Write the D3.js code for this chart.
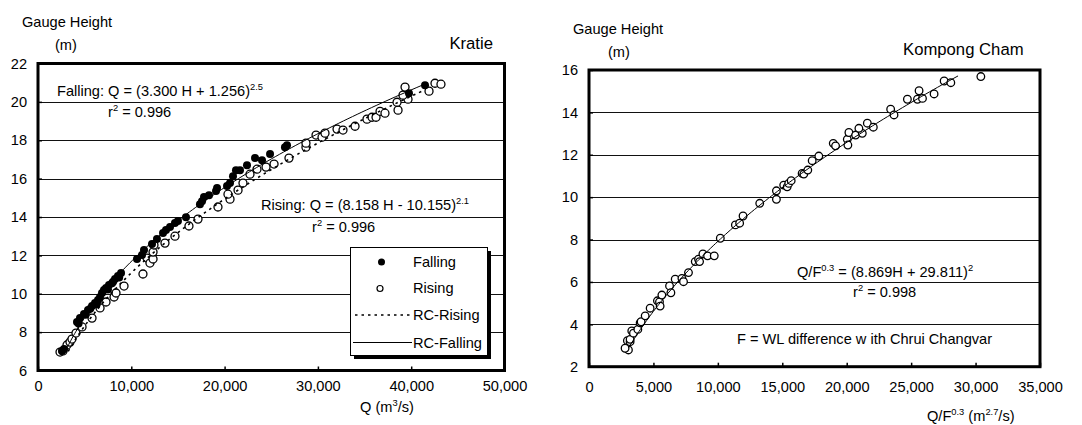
<!DOCTYPE html>
<html>
<head>
<meta charset="utf-8">
<script src="https://cdn.jsdelivr.net/npm/d3@7"></script>
<style>
  body { margin: 0; background: #fff; }
  svg text { font-family: "Liberation Sans", Arial, sans-serif; fill: #000; }
</style>
</head>
<body>
<svg id="chart" width="1082" height="425"></svg>
<script>
// ---- Kratie: observed discharge Q (m3/s) vs gauge height H (m) ----
const kratieFalling = [
  [2570, 7.02], [2790, 7.12], [4180, 8.53], [4350, 8.45], [4500, 8.73], [4930, 8.94],
  [5100, 8.90], [5360, 9.15], [5600, 9.22], [5790, 9.36], [6110, 9.52], [6300, 9.45],
  [6430, 9.67], [6650, 9.83], [6860, 10.04], [7070, 10.19], [7290, 10.30], [7500, 10.22],
  [7610, 10.45], [7930, 10.55], [8050, 10.62], [8250, 10.77], [8570, 10.92], [8700, 10.85],
  [8900, 11.08], [10610, 11.81], [11150, 12.02], [11360, 12.28], [12220, 12.59],
  [12750, 12.85], [13400, 13.16], [13720, 13.32], [14150, 13.48], [14680, 13.69],
  [15000, 13.79], [15860, 13.99], [17360, 14.67], [17580, 14.82], [17790, 15.04],
  [18330, 15.14], [19080, 15.35], [19190, 15.51], [20260, 15.61], [20580, 15.77],
  [20900, 16.13], [21220, 16.44], [21650, 16.44], [22400, 16.70], [23260, 17.07],
  [24010, 16.96], [24870, 17.28], [26470, 17.64], [26690, 17.74], [39760, 20.45],
  [41480, 20.87]
];
const kratieRising = [
  [2360, 6.96], [2680, 7.02], [3110, 7.33], [3430, 7.48], [3640, 7.64], [4070, 7.95],
  [4720, 8.27], [5790, 8.73], [6650, 9.26], [7290, 9.57], [8150, 9.83], [8360, 10.04],
  [9220, 10.40], [11250, 11.03], [11680, 11.86], [12000, 11.60], [12330, 11.81],
  [12330, 12.17], [12430, 12.54], [13610, 12.64], [14680, 13.00], [16180, 13.53],
  [17150, 13.89], [19290, 14.52], [20580, 14.93], [20360, 15.19], [21440, 15.40],
  [21970, 15.77], [22720, 16.23], [23470, 16.49], [24440, 16.60], [25300, 16.76],
  [26900, 17.07], [28720, 17.64], [28720, 17.85], [29800, 18.27], [30440, 18.16],
  [30760, 18.37], [32050, 18.58], [32690, 18.53], [33980, 18.73], [35260, 19.10],
  [35800, 19.20], [36230, 19.20], [36660, 19.51], [37190, 19.41], [38590, 19.57],
  [38480, 19.98], [39660, 20.14], [39120, 20.35], [39340, 20.77], [41910, 20.56],
  [42550, 20.97], [43190, 20.92]
];
// Rating curves Q = (a H + b)^n and the stage range each one spans
const fallingCoef = [3.300, 1.256, 2.5];
const risingCoef = [8.158, -10.155, 2.1];
const fallingRange = [7.0, 20.85];
const risingRange = [7.0, 20.55];
const kratieXTicks = [0, 10000, 20000, 30000, 40000, 50000];
const kratieYTicks = [6, 8, 10, 12, 14, 16, 18, 20, 22];

// ---- Kompong Cham: Q/F^0.3 vs gauge height ----
const chamPoints = [
  [3060, 2.79], [2800, 2.87], [2980, 3.23], [3190, 3.18], [3190, 3.29], [3320, 3.69],
  [3450, 3.58], [3790, 3.76], [3970, 4.07], [4045, 4.12], [4360, 4.40], [4745, 4.76],
  [5310, 5.11], [5470, 5.06], [5520, 4.86], [5655, 5.38], [6250, 5.81], [6355, 5.49],
  [6690, 6.13], [7210, 6.17], [7335, 6.01], [7720, 6.44], [8245, 6.96], [8500, 7.07],
  [8580, 6.96], [8840, 7.32], [9200, 7.23], [9720, 7.23], [10190, 8.06], [11360, 8.69],
  [11690, 8.77], [11955, 9.11], [13250, 9.71], [14545, 9.90], [14545, 10.30],
  [15110, 10.57], [15380, 10.49], [15500, 10.65], [15690, 10.78], [16540, 11.12],
  [16670, 11.09], [16980, 11.28], [17320, 11.72], [17835, 11.94], [18955, 12.54],
  [19135, 12.42], [20045, 12.73], [20090, 12.46], [20170, 13.05], [20690, 12.93],
  [21210, 13.01], [20945, 13.25], [21600, 13.49], [22065, 13.30], [23410, 14.15],
  [23670, 13.88], [24710, 14.62], [25490, 14.62], [25615, 15.02], [25880, 14.66],
  [26780, 14.87], [27560, 15.48], [28080, 15.40], [30410, 15.69]
];
const chamCoef = [8.869, 29.811, 2];
const chamRange = [2.9, 15.72];
const chamXTicks = [0, 5000, 10000, 15000, 20000, 25000, 30000, 35000];
const chamYTicks = [2, 4, 6, 8, 10, 12, 14, 16];

const svg = d3.select("#chart");
const fmt = d3.format(",");
const FONT = 14.6;
const TITLE_FONT = 16.7;

// Text with superscript pieces: parts are strings or {sup: "..."}
function richText(parent, x, y, parts, size, anchor) {
  const t = parent.append("text")
    .attr("x", x).attr("y", y)
    .attr("font-size", size)
    .attr("text-anchor", anchor || "start");
  let up = false;
  const rise = size * 0.4;
  parts.forEach(p => {
    const isSup = typeof p === "object";
    const ts = t.append("tspan").text(isSup ? p.sup : p);
    if (isSup) {
      ts.attr("font-size", size * 0.64);
      if (!up) { ts.attr("dy", -rise); up = true; }
    } else if (up) {
      ts.attr("dy", rise); up = false;
    }
  });
  return t;
}

// Sample a rating curve H -> Q over its stage range
function ratingCurve(coef, range) {
  const pts = [];
  const n = 120;
  for (let i = 0; i <= n; i++) {
    const h = range[0] + (range[1] - range[0]) * i / n;
    pts.push([Math.pow(coef[0] * h + coef[1], coef[2]), h]);
  }
  return pts;
}

function drawPanel(cfg) {
  const g = svg.append("g");
  const x = d3.scaleLinear().domain(cfg.xDomain).range(cfg.xRange);
  const y = d3.scaleLinear().domain(cfg.yDomain).range(cfg.yRange);

  // horizontal gridlines
  g.append("g").selectAll("line")
    .data(cfg.yTicks.slice(1, -1))
    .join("line")
    .attr("x1", cfg.xRange[0]).attr("x2", cfg.xRange[1])
    .attr("y1", d => Math.round(y(d)) + 0.5).attr("y2", d => Math.round(y(d)) + 0.5)
    .attr("stroke", "#111").attr("stroke-width", 1);

  // axes with inward ticks
  const xAxis = g.append("g")
    .attr("transform", `translate(0,${cfg.yRange[0]})`)
    .call(d3.axisBottom(x).tickValues(cfg.xTicks).tickFormat(fmt)
      .tickSizeInner(-4).tickSizeOuter(0).tickPadding(cfg.xPad));
  const yAxis = g.append("g")
    .attr("transform", `translate(${cfg.xRange[0]},0)`)
    .call(d3.axisLeft(y).tickValues(cfg.yTicks)
      .tickSizeInner(-4).tickSizeOuter(0).tickPadding(11));
  [xAxis, yAxis].forEach(a => {
    a.select(".domain").remove();
    a.selectAll("line").attr("stroke", "#000").attr("stroke-width", 1.5);
    a.selectAll("text").attr("font-size", FONT)
      .attr("font-family", '"Liberation Sans", Arial, sans-serif').attr("fill", "#000");
  });

  // plot frame
  g.append("rect")
    .attr("x", cfg.xRange[0]).attr("y", cfg.yRange[1])
    .attr("width", cfg.xRange[1] - cfg.xRange[0])
    .attr("height", cfg.yRange[0] - cfg.yRange[1])
    .attr("fill", "none").attr("stroke", "#000").attr("stroke-width", 3);

  return { g, x, y };
}

// ================= Kratie =================
const left = drawPanel({
  xDomain: [0, 50000], xRange: [38, 504.5],
  yDomain: [6, 22], yRange: [370.5, 63.5],
  xTicks: kratieXTicks, yTicks: kratieYTicks, xPad: 10
});

left.g.append("g").selectAll("circle")
  .data(kratieRising).join("circle")
  .attr("cx", d => left.x(d[0])).attr("cy", d => left.y(d[1]))
  .attr("r", 4).attr("fill", "#fff").attr("stroke", "#000").attr("stroke-width", 1.3);
left.g.append("g").selectAll("circle")
  .data(kratieFalling).join("circle")
  .attr("cx", d => left.x(d[0])).attr("cy", d => left.y(d[1]))
  .attr("r", 4).attr("fill", "#000");

const lineL = d3.line().x(d => left.x(d[0])).y(d => left.y(d[1]));
left.g.append("path").datum(ratingCurve(risingCoef, risingRange))
  .attr("d", lineL).attr("fill", "none").attr("stroke", "#000")
  .attr("stroke-width", 1.6).attr("stroke-dasharray", "2.5,4");
left.g.append("path").datum(ratingCurve(fallingCoef, fallingRange))
  .attr("d", lineL).attr("fill", "none").attr("stroke", "#000").attr("stroke-width", 1);

// legend
const leg = left.g.append("g");
leg.append("rect").attr("x", 354).attr("y", 251).attr("width", 137).attr("height", 108).attr("fill", "#000");
leg.append("rect").attr("x", 350.5).attr("y", 247.5).attr("width", 137).attr("height", 108)
  .attr("fill", "#fff").attr("stroke", "#000").attr("stroke-width", 1);
leg.append("circle").attr("cx", 381.5).attr("cy", 262).attr("r", 3.5).attr("fill", "#000");
leg.append("circle").attr("cx", 380).attr("cy", 288.5).attr("r", 3).attr("fill", "#fff")
  .attr("stroke", "#000").attr("stroke-width", 1.2);
leg.append("line").attr("x1", 355).attr("x2", 410).attr("y1", 315).attr("y2", 315)
  .attr("stroke", "#000").attr("stroke-width", 1.6).attr("stroke-dasharray", "2.5,4");
leg.append("line").attr("x1", 353).attr("x2", 412).attr("y1", 342.5).attr("y2", 342.5)
  .attr("stroke", "#000").attr("stroke-width", 1);
[["Falling", 267], ["Rising", 293], ["RC-Rising", 320], ["RC-Falling", 347.5]].forEach(([t, yy]) => {
  leg.append("text").attr("x", 413).attr("y", yy).attr("font-size", FONT).text(t);
});

// titles and equations
richText(svg, 22, 26.5, ["Gauge Height"], FONT);
richText(svg, 55, 50, ["(m)"], FONT);
richText(svg, 493, 48.5, ["Kratie"], TITLE_FONT, "end");
richText(svg, 57, 95.5, ["Falling: Q = (3.300 H + 1.256)", { sup: "2.5" }], FONT);
richText(svg, 108, 117, ["r", { sup: "2" }, " = 0.996"], FONT);
richText(svg, 261, 210, ["Rising: Q = (8.158 H - 10.155)", { sup: "2.1" }], FONT);
richText(svg, 312, 231.5, ["r", { sup: "2" }, " = 0.996"], FONT);
richText(svg, 360, 412, ["Q (m", { sup: "3" }, "/s)"], FONT);

// ================= Kompong Cham =================
const right = drawPanel({
  xDomain: [0, 35000], xRange: [589, 1040],
  yDomain: [2, 16], yRange: [366.7, 70],
  xTicks: chamXTicks, yTicks: chamYTicks, xPad: 14.5
});

right.g.append("g").selectAll("circle")
  .data(chamPoints).join("circle")
  .attr("cx", d => right.x(d[0])).attr("cy", d => right.y(d[1]))
  .attr("r", 3.8).attr("fill", "#fff").attr("stroke", "#000").attr("stroke-width", 1.3);

const lineR = d3.line().x(d => right.x(d[0])).y(d => right.y(d[1]));
right.g.append("path").datum(ratingCurve(chamCoef, chamRange))
  .attr("d", lineR).attr("fill", "none").attr("stroke", "#000").attr("stroke-width", 1);

richText(svg, 573, 34, ["Gauge Height"], FONT);
richText(svg, 608, 57, ["(m)"], FONT);
richText(svg, 903, 55, ["Kompong Cham"], TITLE_FONT);
richText(svg, 797, 277, ["Q/F", { sup: "0.3" }, " = (8.869H + 29.811)", { sup: "2" }], FONT);
richText(svg, 853, 296.5, ["r", { sup: "2" }, " = 0.998"], FONT);
richText(svg, 737, 344, ["F = WL difference w ith Chrui Changvar"], FONT);
richText(svg, 927, 421, ["Q/F", { sup: "0.3" }, " (m", { sup: "2.7" }, "/s)"], FONT);
</script>
</body>
</html>
